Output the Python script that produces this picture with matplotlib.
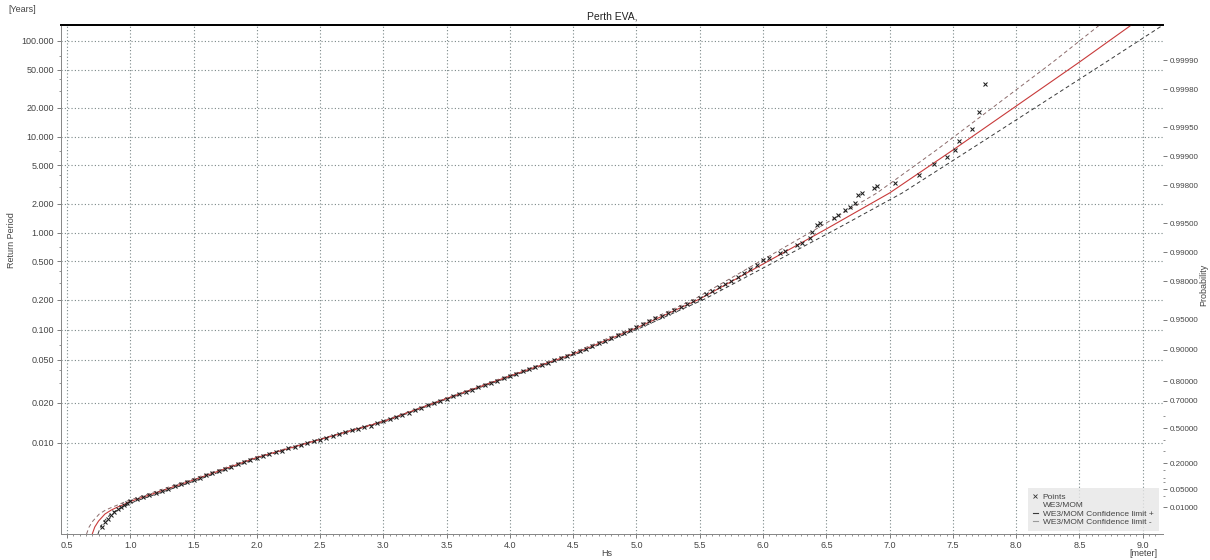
import numpy as np
import matplotlib
matplotlib.use("Agg")
import matplotlib.pyplot as plt
from matplotlib.ticker import FixedLocator, FormatStrFormatter
from matplotlib.lines import Line2D

plt.rcParams["font.family"] = ["Liberation Sans", "DejaVu Sans"]

EVENTS_PER_YEAR = 160.0     # peaks per year linking return period and probability

# ---- data ---------------------------------------------------------------------
# observed peaks: Hs [m] and non-exceedance probability
hs_points = [0.78, 0.80, 0.825, 0.85, 0.875, 0.90, 0.925, 0.95, 0.975, 1.00,
             1.05, 1.10, 1.15, 1.20, 1.25, 1.30, 1.35, 1.40, 1.45, 1.50,
             1.55, 1.60, 1.65, 1.70, 1.75, 1.80, 1.85, 1.90, 1.95, 2.00,
             2.05, 2.10, 2.15, 2.20, 2.25, 2.30, 2.35, 2.40, 2.45, 2.50,
             2.55, 2.60, 2.65, 2.70, 2.75, 2.80, 2.85, 2.90, 2.95, 3.00,
             3.05, 3.10, 3.15, 3.20, 3.25, 3.30, 3.35, 3.40, 3.45, 3.50,
             3.55, 3.60, 3.65, 3.70, 3.75, 3.80, 3.85, 3.90, 3.95, 4.00,
             4.05, 4.10, 4.15, 4.20, 4.25, 4.30, 4.35, 4.40, 4.45, 4.50,
             4.55, 4.60, 4.65, 4.70, 4.75, 4.80, 4.85, 4.90, 4.95, 5.00,
             5.05, 5.10, 5.15, 5.20, 5.25, 5.30, 5.35, 5.40, 5.45, 5.50,
             5.55, 5.60, 5.65, 5.70, 5.75, 5.80, 5.85, 5.90, 5.95, 6.00,
             6.05, 6.13, 6.17, 6.27, 6.31, 6.37, 6.39, 6.43, 6.45, 6.56,
             6.59, 6.65, 6.69, 6.73, 6.75, 6.78, 6.88, 6.90, 7.04, 7.23,
             7.35, 7.45, 7.52, 7.55, 7.65, 7.71, 7.75]
p_points = [0.00059, 0.00136, 0.00231, 0.00377, 0.00557, 0.00800, 0.01005, 0.01246, 0.0153, 0.0178,
            0.0224, 0.0268, 0.0331, 0.0388, 0.0453, 0.0523, 0.0620, 0.0709, 0.0803, 0.0904,
            0.1039, 0.1157, 0.1311, 0.1442, 0.1579, 0.1758, 0.1946, 0.2101, 0.2261, 0.2466,
            0.2592, 0.2761, 0.2934, 0.3064, 0.3240, 0.3370, 0.3546, 0.3723, 0.3899, 0.4033,
            0.4206, 0.4338, 0.4512, 0.4643, 0.4814, 0.4941, 0.5106, 0.5228, 0.5390, 0.5549,
            0.5741, 0.5892, 0.6041, 0.6220, 0.6395, 0.6531, 0.6697, 0.6855, 0.6977, 0.7125,
            0.7268, 0.7379, 0.7483, 0.7610, 0.7734, 0.7827, 0.7919, 0.8026, 0.8130, 0.8209,
            0.8285, 0.8377, 0.8464, 0.8530, 0.8594, 0.8670, 0.8742, 0.8798, 0.8852, 0.8915,
            0.8974, 0.9031, 0.9085, 0.9146, 0.9193, 0.9239, 0.9290, 0.9329, 0.9368, 0.9411,
            0.9451, 0.9482, 0.9517, 0.9545, 0.9575, 0.9604, 0.9631, 0.9657, 0.9680, 0.9705,
            0.9729, 0.9747, 0.9768, 0.9786, 0.9803, 0.98190, 0.98355, 0.98504, 0.98640, 0.98794,
            0.98850, 0.98979, 0.99028, 0.99158, 0.99196, 0.99287, 0.99383, 0.99478, 0.99502, 0.99559,
            0.99589, 0.99636, 0.99661, 0.99692, 0.99746, 0.99758, 0.99785, 0.99795, 0.99809, 0.99843,
            0.99879, 0.99898, 0.999137, 0.999305, 0.999479, 0.999654, 0.999823]

# fitted WE3/MOM curve and its confidence limits, at the same probabilities
p_fit = [0.00015, 0.00059, 0.0016, 0.0043, 0.0071, 0.0100, 0.0132, 0.0178, 0.0904,
         0.2466, 0.4033, 0.5549, 0.7125, 0.8209, 0.8903, 0.9397, 0.9695, 0.98672,
         0.99426, 0.99758, 0.999137, 0.999700, 0.9998958, 0.9999563, 0.999965]
hs_fit = [0.70, 0.72, 0.75, 0.80, 0.85, 0.90, 0.95, 1.00, 1.50,
          2.00, 2.50, 3.00, 3.50, 4.00, 4.50, 5.00, 5.50, 6.00,
          6.50, 7.00, 7.50, 8.00, 8.50, 8.90, 9.00]
hs_ci_plus = [0.745, 0.765, 0.795, 0.845, 0.895, 0.94, 0.99, 1.035, 1.53,
              2.02, 2.515, 3.015, 3.515, 4.02, 4.525, 5.03, 5.54, 6.06,
              6.58, 7.10, 7.63, 8.17, 8.71, 9.15, 9.26]
hs_ci_minus = [0.655, 0.675, 0.705, 0.755, 0.805, 0.86, 0.91, 0.965, 1.47,
               1.98, 2.485, 2.985, 3.485, 3.98, 4.475, 4.97, 5.46, 5.94,
               6.42, 6.90, 7.37, 7.83, 8.29, 8.65, 8.74]

# axis ticks
rp_ticks = [100.0, 50.0, 20.0, 10.0, 5.0, 2.0, 1.0, 0.5, 0.2, 0.1, 0.05, 0.02, 0.01]
rp_minor = [70.0, 40.0, 30.0, 7.0, 4.0, 3.0, 0.7, 0.4, 0.3, 0.07, 0.04, 0.03]
prob_ticks = [0.9999, 0.9998, 0.9995, 0.999, 0.998, 0.995, 0.99, 0.98, 0.95,
              0.90, 0.80, 0.70, 0.50, 0.20, 0.05, 0.01]
prob_minor = [0.60, 0.40, 0.30, 0.15, 0.10, 0.08, 0.03]
hs_ticks = [0.5, 1.0, 1.5, 2.0, 2.5, 3.0, 3.5, 4.0, 4.5, 5.0, 5.5, 6.0, 6.5,
            7.0, 7.5, 8.0, 8.5, 9.0]


# ---- Gumbel probability paper ------------------------------------------------
def p_fwd(p):
    p = np.clip(np.asarray(p, float), 1e-300, 1 - 1e-16)
    return -np.log(-np.log(p))


def p_inv(g):
    return np.exp(-np.exp(-np.asarray(g, float)))


def t_fwd(t):
    t = np.maximum(np.asarray(t, float), 1e-12)
    return p_fwd(1.0 - 1.0 / (EVENTS_PER_YEAR * t))


def t_inv(g):
    q = -np.expm1(-np.exp(-np.asarray(g, float)))
    return 1.0 / (EVENTS_PER_YEAR * q)


G_LO, G_HI = -2.175, 10.06
GREY = "#444444"

fig = plt.figure(figsize=(12.1, 5.6), dpi=100)
ax = fig.add_axes([61 / 1210, 1 - 534 / 560, 1102 / 1210, 509 / 560])
ax.set_yscale("function", functions=(t_fwd, t_inv))
ax.set_ylim(t_inv(G_LO), t_inv(G_HI))
ax.set_xlim(0.453, 9.16)

ax2 = ax.twinx()
ax2.set_yscale("function", functions=(p_fwd, p_inv))
ax2.set_ylim(p_inv(G_LO), p_inv(G_HI))

# left axis: return period
ax.yaxis.set_major_locator(FixedLocator(rp_ticks))
ax.yaxis.set_minor_locator(FixedLocator(rp_minor))
ax.yaxis.set_major_formatter(FormatStrFormatter("%.3f"))
ax.yaxis.set_minor_formatter(plt.NullFormatter())
ax.xaxis.set_major_locator(FixedLocator(hs_ticks))
ax.xaxis.set_minor_locator(FixedLocator([x / 20 for x in range(10, 183)]))
ax.xaxis.set_major_formatter(FormatStrFormatter("%.1f"))

# right axis: probability
ax2.yaxis.set_major_locator(FixedLocator(prob_ticks))
ax2.yaxis.set_minor_locator(FixedLocator(prob_minor))
ax2.yaxis.set_major_formatter(FormatStrFormatter("%.5f"))
ax2.yaxis.set_minor_formatter(plt.NullFormatter())

for a in (ax, ax2):
    a.tick_params(which="major", direction="out", length=3, width=0.6,
                  color="#666666", labelsize=6.5, labelcolor=GREY, pad=2)
    a.tick_params(which="minor", direction="out", length=1.5, width=0.5,
                  color="#666666")
    for side in ("left", "bottom", "right"):
        a.spines[side].set_color("#888888")
        a.spines[side].set_linewidth(0.7)
    a.spines["right"].set_visible(False)
    a.spines["top"].set_color("black")
    a.spines["top"].set_linewidth(1.3)
ax2.tick_params(axis="y", which="major", labelsize=5.8)

ax.grid(True, which="major", color="#7a8888", linestyle=(0, (1, 2)), linewidth=0.8)

# curves and points
ax2.plot(hs_ci_minus, p_fit, color="#8c6b6b", lw=0.7, ls=(0, (4, 3)))
ax2.plot(hs_ci_plus, p_fit, color="#3a3a3a", lw=0.7, ls=(0, (4, 3)))
ax2.plot(hs_fit, p_fit, color="#c83a3a", lw=0.8)
ax2.plot(hs_points, p_points, ls="none", marker="x", ms=3.5, mew=0.75,
         color="#1e1e1e")

handles = [
    Line2D([], [], ls="none", marker="x", ms=3, mew=0.6, color="#333333"),
    Line2D([], [], color="#d23c3c", lw=0.3, alpha=0.0),
    Line2D([], [], color="#3a3a3a", lw=0.8),
    Line2D([], [], color="#9a9a9a", lw=0.8),
]
labels = ["Points", "WE3/MOM", "WE3/MOM Confidence limit +",
          "WE3/MOM Confidence limit -"]
leg = ax2.legend(handles, labels, loc="lower right", bbox_to_anchor=(0.996, 0.006),
                 fontsize=6, handlelength=0.6, handletextpad=0.6,
                 labelspacing=0.05, borderpad=0.6, borderaxespad=0,
                 frameon=True, fancybox=False)
leg.get_frame().set_facecolor("#e6e6e6")
leg.get_frame().set_edgecolor("none")
for t in leg.get_texts():
    t.set_color(GREY)

ax.set_title("Perth EVA,", fontsize=7.5, color="#222222", pad=4)
fig.text(8 / 1210, 1 - 10 / 560, "[Years]", fontsize=6.5, color=GREY, va="center")
fig.text(12 / 1210, 1 - 240 / 560, "Return Period", fontsize=6.5, color=GREY,
         rotation=90, ha="center", va="center")
fig.text(1204 / 1210, 1 - 285 / 560, "Probability", fontsize=6.5, color=GREY,
         rotation=90, ha="center", va="center")
fig.text(607 / 1210, 1 - 553 / 560, "Hs", fontsize=6.5, color=GREY,
         ha="center", va="center")
fig.text(1143 / 1210, 1 - 553 / 560, "[meter]", fontsize=6.5, color=GREY,
         ha="center", va="center")

fig.savefig("out.png", dpi=100)
